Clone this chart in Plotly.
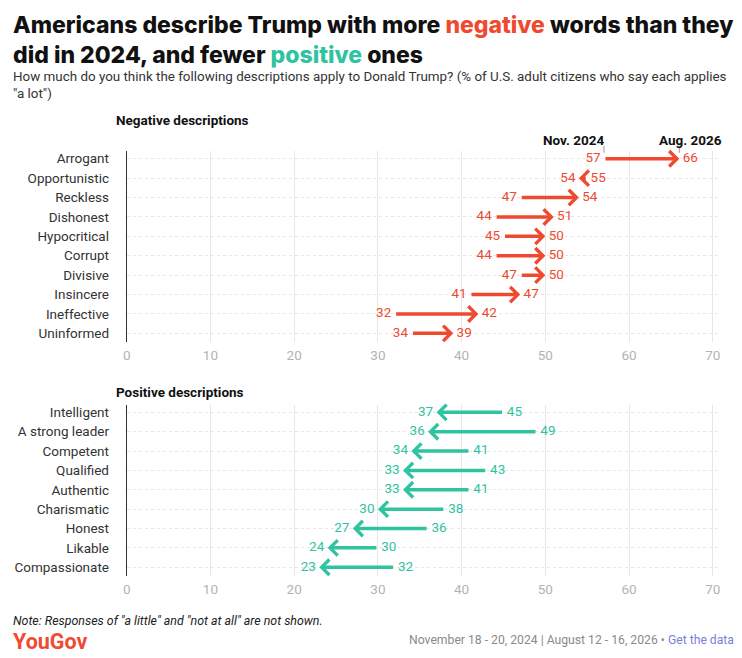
import plotly.graph_objects as go

RED = "#ef4a30"
GREEN = "#2fc39f"
FONT = "Roboto"
TITLE_FONT = "Inter"

neg_labels = ["Arrogant", "Opportunistic", "Reckless", "Dishonest", "Hypocritical",
              "Corrupt", "Divisive", "Insincere", "Ineffective", "Uninformed"]
neg_2024 = [57, 55, 47, 44, 45, 44, 47, 41, 32, 34]
neg_2026 = [66, 54, 54, 51, 50, 50, 50, 47, 42, 39]

pos_labels = ["Intelligent", "A strong leader", "Competent", "Qualified", "Authentic",
              "Charismatic", "Honest", "Likable", "Compassionate"]
pos_2024 = [45, 49, 41, 43, 41, 38, 36, 30, 32]
pos_2026 = [37, 36, 34, 33, 33, 30, 27, 24, 23]

x_ticks = [0, 10, 20, 30, 40, 50, 60, 70]

# page body adds an 8px margin, so the figure is 8px smaller and shifted
OFF = 8
W, H = 742 - OFF, 658 - OFF
NB = "\u00a0"


def py(p):
    # pixel row in the target picture -> paper y
    return 1 - (p - OFF) / H


def px(p):
    return (p - OFF) / W


fig = go.Figure()
annotations = []


def add_panel(labels, v_old, v_new, color, xa, ya):
    lo = [min(a, b) for a, b in zip(v_old, v_new)]
    hi = [max(a, b) for a, b in zip(v_old, v_new)]
    fig.add_trace(go.Scatter(x=lo, y=labels, mode="text", text=[str(v) + NB for v in lo],
                             textposition="middle left", textfont=dict(size=13.5, color=color, family=FONT),
                             xaxis=xa, yaxis=ya, hoverinfo="skip", showlegend=False))
    fig.add_trace(go.Scatter(x=hi, y=labels, mode="text", text=[NB + str(v) for v in hi],
                             textposition="middle right", textfont=dict(size=13.5, color=color, family=FONT),
                             xaxis=xa, yaxis=ya, hoverinfo="skip", showlegend=False))
    for lab, a, b in zip(labels, v_old, v_new):
        annotations.append(dict(
            x=b, y=lab, ax=a, ay=lab, xref=xa, yref=ya, axref=xa, ayref=ya,
            showarrow=True, arrowhead=4, arrowsize=0.85, arrowwidth=3.5,
            arrowcolor=color, standoff=0, startstandoff=0, text=""))


add_panel(neg_labels, neg_2024, neg_2026, RED, "x", "y")
add_panel(pos_labels, pos_2024, pos_2026, GREEN, "x2", "y2")

x_dom = [px(123.5), px(720)]
x_rng = [0, (720 - 123.5) / 8.43]

xaxis_style = dict(range=x_rng, domain=x_dom, tickvals=x_ticks, showgrid=True,
                   gridcolor="#e6e6e6", gridwidth=1, zeroline=False, showline=False,
                   ticks="", ticklabelstandoff=3,
                   tickfont=dict(size=13.5, color="#b3b3b3", family=FONT),
                   fixedrange=True)
yaxis_style = dict(type="category", showgrid=True, gridcolor="#e6e6e6", griddash="dot",
                   gridwidth=1, showline=True, linecolor="#333333", linewidth=1,
                   zeroline=False, ticks="", ticklabelstandoff=14,
                   tickfont=dict(size=13.5, color="#333333", family=FONT), fixedrange=True)

fig.update_layout(
    width=W, height=H, autosize=False,
    margin=dict(l=0, r=0, t=0, b=0),
    paper_bgcolor="white", plot_bgcolor="white",
    font=dict(family=FONT, color="#222222"),
    xaxis=dict(xaxis_style, anchor="y"),
    yaxis=dict(yaxis_style, domain=[py(342), py(150)], range=[9.47, -0.41], anchor="x"),
    xaxis2=dict(xaxis_style, anchor="y2"),
    yaxis2=dict(yaxis_style, domain=[py(576), py(405)], range=[8.46, -0.36], anchor="x2"),
)

# titles and notes
annotations += [
    dict(text="Americans describe Trump with more <span style='color:%s'>negative</span> words than they<br>"
              "did in 2024, and fewer <span style='color:%s'>positive</span> ones" % (RED, GREEN),
         x=px(7), y=py(8.5), xref="paper", yref="paper", xanchor="left", yanchor="top",
         align="left", showarrow=False, font=dict(size=23, color="#111111", family=TITLE_FONT, weight=800)),
    dict(text="How much do you think the following descriptions apply to Donald Trump? (% of U.S. adult citizens who say each applies<br>"
              "\"a lot\")",
         x=px(7), y=py(66), xref="paper", yref="paper", xanchor="left", yanchor="top",
         align="left", showarrow=False, font=dict(size=13.4, color="#333333", family=FONT)),
    dict(text="Negative descriptions", x=px(111), y=py(119), xref="paper", yref="paper",
         xanchor="left", yanchor="middle", showarrow=False,
         font=dict(size=13.5, color="#111111", family=FONT, weight=700)),
    dict(text="Positive descriptions", x=px(111), y=py(392), xref="paper", yref="paper",
         xanchor="left", yanchor="middle", showarrow=False,
         font=dict(size=13.5, color="#111111", family=FONT, weight=700)),
    dict(text="Nov. 2024", x=neg_2024[0], y=py(139), xref="x", yref="paper",
         xanchor="right", yanchor="middle", xshift=2, showarrow=False,
         font=dict(size=13.5, color="#111111", family=FONT, weight=700)),
    dict(text="Aug. 2026", x=neg_2026[0], y=py(139), xref="x", yref="paper",
         xanchor="left", yanchor="middle", xshift=-22, showarrow=False,
         font=dict(size=13.5, color="#111111", family=FONT, weight=700)),
    dict(text="<i>Note: Responses of \"a little\" and \"not at all\" are not shown.</i>",
         x=px(7), y=py(620), xref="paper", yref="paper", xanchor="left", yanchor="middle",
         showarrow=False, font=dict(size=12.4, color="#222222", family=FONT)),
    dict(text="YouGov", x=px(7), y=py(641), xref="paper", yref="paper", xanchor="left",
         yanchor="middle", showarrow=False,
         font=dict(size=21.5, color="#f04b32", family=FONT, weight=700)),
    dict(text="November 18 - 20, 2024 | August 12 - 16, 2026 \u2022 <span style='color:#7b7fd8'>Get the data</span>",
         x=px(737), y=py(640), xref="paper", yref="paper", xanchor="right", yanchor="middle",
         showarrow=False, font=dict(size=12.2, color="#8a8a8a", family=FONT)),
]

shapes = []
for xv in [neg_2024[0], neg_2026[0]]:
    shapes.append(dict(type="line", xref="x", yref="paper", x0=xv, x1=xv,
                       y0=py(152), y1=py(145), line=dict(color="#999999", width=1)))

fig.update_layout(annotations=annotations, shapes=shapes)

fig.write_html("out.html")
